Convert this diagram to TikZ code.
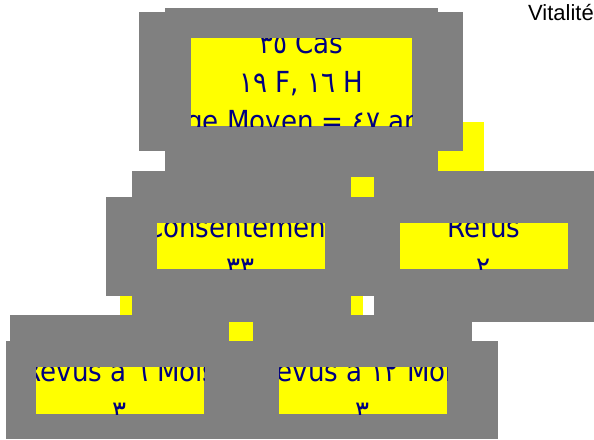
\documentclass[tikz,border=0pt]{standalone}
\usepackage{fontspec}
\setmainfont{Liberation Sans}
\newfontfamily\lblfont[FakeStretch=0.9]{DejaVu Sans}
\definecolor{gr}{HTML}{808080}
\definecolor{yl}{HTML}{FFFF00}
\definecolor{nv}{HTML}{000080}
\begin{document}
\begin{tikzpicture}[x=1pt,y=-1pt,
  grayblk/.style={fill=gr, draw=none},
  yelblk/.style={fill=yl, draw=none},
  lbl/.style={anchor=base, inner sep=0pt, text=nv, font=\lblfont\fontsize{29}{39}\selectfont},
  ttl/.style={anchor=base west, inner sep=0pt, text=black, font=\fontsize{22}{24}\selectfont},
]
\useasboundingbox (0,0) rectangle (594,439);
% yellow pieces under the gray
\fill[yelblk] (438,122) rectangle (484,171);
\fill[yelblk] (120,296) rectangle (132,315);
\fill[yelblk] (351,296) rectangle (363,315);
% gray blocks
\fill[grayblk] (139,12) rectangle (463,151);
\fill[grayblk] (165,8) rectangle (438,171);
\fill[grayblk] (132,171) rectangle (594,296);
\fill[grayblk] (106,197) rectangle (351,296);
\fill[grayblk] (132,296) rectangle (351,315);
\fill[grayblk] (374,171) rectangle (594,322);
\fill[grayblk] (10,315) rectangle (472,439);
\fill[grayblk] (6,341) rectangle (498,439);
% yellow pieces on top of the gray
\fill[yelblk] (351,177) rectangle (374,197);
\fill[yelblk] (229,322) rectangle (253,341);
% top box
\begin{scope}
\clip (191,38) rectangle (412,126);
\fill[yelblk] (191,38) rectangle (412,126);
\node[lbl] (t1) at (301.5,53) {٣٥ Cas};
\node[lbl] (t2) at (301.5,92) {١٩ F, ١٦ H};
\node[lbl] (t3) at (301.5,131) {Age Moyen = ٤٧ ans};
\end{scope}
% Consentement
\begin{scope}
\clip (157,223) rectangle (325,269);
\fill[yelblk] (157,223) rectangle (325,269);
\node[lbl] (c1) at (241,237) {Consentement};
\node[lbl] (c2) at (241,277) {٣٣};
\end{scope}
% Refus
\begin{scope}
\clip (400,223) rectangle (568,269);
\fill[yelblk] (400,223) rectangle (568,269);
\node[lbl] (r1) at (484,237) {Refus};
\node[lbl] (r2) at (484,277) {٢};
\end{scope}
% Revus 6
\begin{scope}
\clip (36,367) rectangle (204,414);
\fill[yelblk] (36,367) rectangle (204,414);
\node[lbl] (s1) at (120,381) {Revus à ٦ Mois};
\node[lbl] (s2) at (120,421) {٣};
\end{scope}
% Revus 12
\begin{scope}
\clip (279,367) rectangle (447,414);
\fill[yelblk] (279,367) rectangle (447,414);
\node[lbl] (u1) at (363,381) {Revus à ١٢ Mois};
\node[lbl] (u2) at (363,421) {٣};
\end{scope}
\node[ttl] (vt) at (528,20) {Vitalité};
\end{tikzpicture}
\end{document}
